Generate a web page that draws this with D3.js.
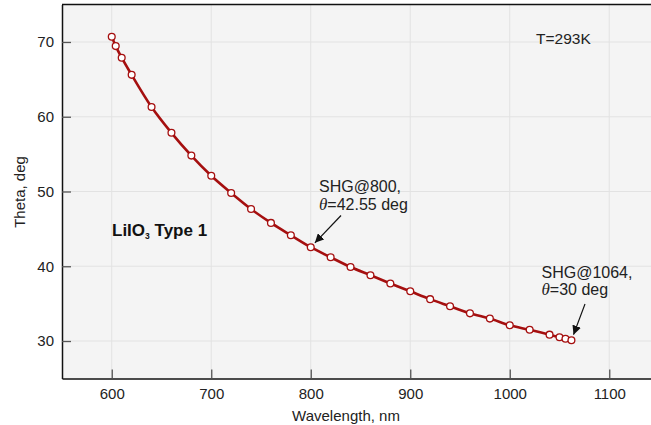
<!DOCTYPE html>
<html>
<head>
<meta charset="utf-8">
<script src="https://cdn.jsdelivr.net/npm/d3@7"></script>
<style>
  body { margin: 0; background: #fff; }
  svg { display: block; font-family: "Liberation Sans", Arial, sans-serif; }
</style>
</head>
<body>
<div id="chart"></div>
<script>
// phase matching angle of LiIO3, type 1, T=293K
var wavelength = [600, 604, 610, 620, 640, 660, 680, 700, 720, 740, 760, 780, 800, 820,
                  840, 860, 880, 900, 920, 940, 960, 980, 1000, 1020, 1040, 1050, 1056, 1062];
var theta = [70.7, 69.45, 67.9, 65.6, 61.3, 57.85, 54.8, 52.1, 49.8, 47.65, 45.8, 44.15, 42.55, 41.2,
             39.9, 38.8, 37.7, 36.65, 35.6, 34.65, 33.7, 33.0, 32.1, 31.5, 30.85, 30.5, 30.3, 30.1];
var xTicks = [600, 700, 800, 900, 1000, 1100];
var yTicks = [30, 40, 50, 60, 70];
var notes = [
  {x: 800, y: 42.55, line1: "SHG@800,", line2: "=42.55 deg"},
  {x: 1062, y: 30.1, line1: "SHG@1064,", line2: "=30 deg"}
];

var width = 651,
    height = 425,
    red = "#a50f0f";

var x = d3.scaleLinear().domain([550, 1150]).range([62, 659]);
var y = d3.scaleLinear().domain([25, 75]).range([378.4, 4.6]);

var svg = d3.select("#chart")
            .append("svg")
            .attr("width", width)
            .attr("height", height);

svg.append("defs")
   .append("marker")
   .attr("id", "arrow")
   .attr("viewBox", "0 0 10 10")
   .attr("refX", 10)
   .attr("refY", 5)
   .attr("markerWidth", 9)
   .attr("markerHeight", 9)
   .attr("markerUnits", "userSpaceOnUse")
   .attr("orient", "auto")
   .append("path")
   .attr("d", "M0,0L10,5L0,10z")
   .attr("fill", "#111");

// plot background
svg.append("rect")
   .attr("x", x.range()[0])
   .attr("y", y.range()[1])
   .attr("width", x.range()[1] - x.range()[0])
   .attr("height", y.range()[0] - y.range()[1])
   .attr("fill", "#f4f4f4");

// grid
svg.append("g")
   .selectAll("line.vx")
   .data(xTicks)
   .enter()
   .append("line")
   .attr("x1", (d) => x(d)).attr("x2", (d) => x(d))
   .attr("y1", y.range()[0]).attr("y2", y.range()[1])
   .attr("stroke", "#e2e2e2");

svg.append("g")
   .selectAll("line.hy")
   .data(yTicks)
   .enter()
   .append("line")
   .attr("y1", (d) => y(d)).attr("y2", (d) => y(d))
   .attr("x1", x.range()[0]).attr("x2", x.range()[1])
   .attr("stroke", "#e2e2e2");

// axes, ticks pointing inwards
var xAxis = svg.append("g")
               .attr("transform", `translate(0,${y.range()[0]})`)
               .call(d3.axisBottom(x).tickValues(xTicks).tickFormat(d3.format("d"))
                       .tickSize(-9).tickPadding(10).tickSizeOuter(0));

var yAxis = svg.append("g")
               .attr("transform", `translate(${x.range()[0]},0)`)
               .call(d3.axisLeft(y).tickValues(yTicks).tickFormat(d3.format("d"))
                       .tickSize(-9).tickPadding(8).tickSizeOuter(0));

[xAxis, yAxis].forEach((g) => {
  g.select(".domain").attr("stroke", "#111").attr("stroke-width", 1.5);
  g.selectAll(".tick line").attr("stroke", "#555").attr("stroke-width", 1.3);
  g.selectAll(".tick text")
   .style("font-size", "15px")
   .style("font-family", "Liberation Sans, Arial, sans-serif")
   .attr("fill", "#222");
});

// top border
svg.append("line")
   .attr("x1", x.range()[0]).attr("x2", x.range()[1])
   .attr("y1", y.range()[1]).attr("y2", y.range()[1])
   .attr("stroke", "#111")
   .attr("stroke-width", 1.5);

// axis titles
svg.append("text")
   .attr("x", 346)
   .attr("y", 421)
   .attr("text-anchor", "middle")
   .style("font-size", "15px")
   .attr("fill", "#222")
   .text("Wavelength, nm");

svg.append("text")
   .attr("transform", "translate(25,192) rotate(-90)")
   .attr("text-anchor", "middle")
   .style("font-size", "15px")
   .attr("fill", "#222")
   .text("Theta, deg");

// curve
var pts = wavelength.map((w, i) => ({w: w, t: theta[i]}));

svg.append("path")
   .datum(pts)
   .attr("fill", "none")
   .attr("stroke", red)
   .attr("stroke-width", 2.6)
   .attr("d", d3.line().x((d) => x(d.w)).y((d) => y(d.t)).curve(d3.curveMonotoneX));

svg.append("g")
   .selectAll("circle")
   .data(pts)
   .enter()
   .append("circle")
   .attr("cx", (d) => x(d.w))
   .attr("cy", (d) => y(d.t))
   .attr("r", 3.4)
   .attr("fill", "#fff")
   .attr("stroke", red)
   .attr("stroke-width", 1.3);

// labels
var title = svg.append("text")
               .attr("x", 112)
               .attr("y", 236)
               .style("font-size", "17px")
               .style("font-weight", "700")
               .attr("fill", "#111");
title.append("tspan").text("LiIO");
title.append("tspan").attr("dy", 3).style("font-size", "8.5px").text("3");
title.append("tspan").attr("dy", -3).text(" Type 1");

svg.append("text")
   .attr("x", 536)
   .attr("y", 44)
   .style("font-size", "15.5px")
   .attr("fill", "#222")
   .text("T=293K");

// annotations with arrows
var noteLayout = [
  {tx: 319, ty: 192, ax: 341, ay: 215.5},
  {tx: 541.5, ty: 277.5, ax: 585, ay: 304}
];

notes.forEach((n, i) => {
  var L = noteLayout[i];
  var t = svg.append("text")
             .attr("x", L.tx)
             .attr("y", L.ty)
             .style("font-size", "16px")
             .attr("fill", "#222");
  t.append("tspan").attr("x", L.tx).text(n.line1);
  var l2 = t.append("tspan").attr("x", L.tx).attr("dy", 17.5);
  l2.append("tspan")
    .style("font-family", "Liberation Serif, Times New Roman, serif")
    .style("font-style", "italic")
    .style("font-size", "17px")
    .text("\u03b8");
  l2.append("tspan").text(n.line2);

  // arrow tip sits just off the marker
  var px = x(n.x), py = y(n.y);
  var dx = px - L.ax, dy = py - L.ay, len = Math.sqrt(dx * dx + dy * dy);
  svg.append("line")
     .attr("x1", L.ax).attr("y1", L.ay)
     .attr("x2", px - dx / len * 6).attr("y2", py - dy / len * 6)
     .attr("stroke", "#111")
     .attr("stroke-width", 1.2)
     .attr("marker-end", "url(#arrow)");
});
</script>
</body>
</html>
